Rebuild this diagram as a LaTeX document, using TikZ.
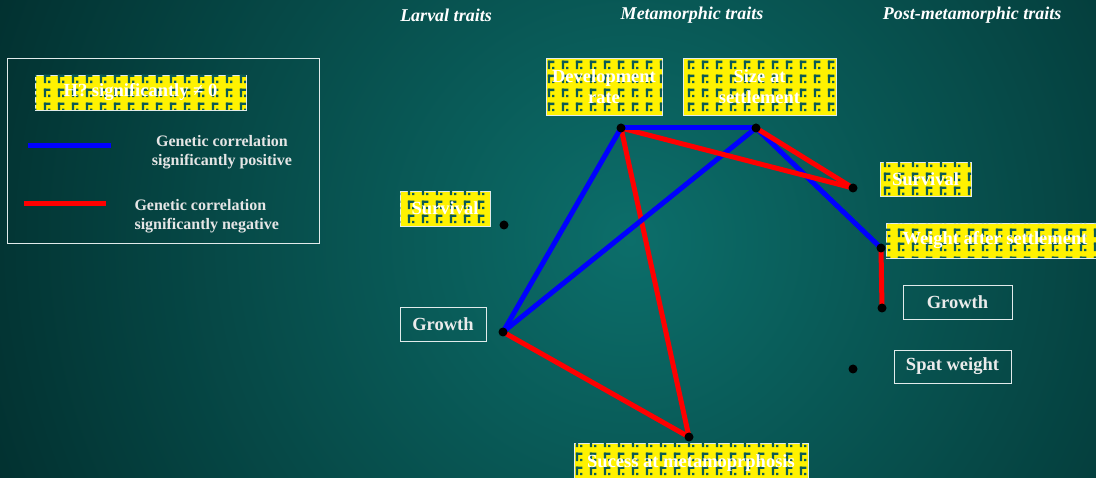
\documentclass[tikz,border=0pt]{standalone}
\usepackage{fontspec}
\setmainfont{Liberation Serif}
\usetikzlibrary{patterns}
\definecolor{bgin}{RGB}{12,110,106}
\definecolor{bgout}{RGB}{0,36,36}
\definecolor{patc}{RGB}{12,90,84}
\definecolor{myblue}{RGB}{0,0,255}
\definecolor{myred}{RGB}{255,0,0}
\definecolor{frame}{RGB}{225,235,235}
\pgfdeclarepatternformonly{tiles}{\pgfqpoint{0pt}{0pt}}{\pgfqpoint{14pt}{14pt}}{\pgfqpoint{14pt}{14pt}}{%
  \pgfpathrectangle{\pgfqpoint{2pt}{3pt}}{\pgfqpoint{2.5pt}{9pt}}\pgfusepath{fill}%
  \pgfpathrectangle{\pgfqpoint{2pt}{9.5pt}}{\pgfqpoint{7pt}{2.5pt}}\pgfusepath{fill}%
  \pgfpathrectangle{\pgfqpoint{6.5pt}{3pt}}{\pgfqpoint{2.5pt}{2.5pt}}\pgfusepath{fill}%
}
\tikzset{
  ybox/.style={draw=frame, line width=0.8pt, fill=yellow,
    postaction={pattern=tiles, pattern color=patc},
    inner sep=0pt, text=white, align=center,
    font=\fontsize{18.5}{21}\selectfont\bfseries},
  wbox/.style={draw=frame, line width=0.8pt, inner sep=0pt, text=white!92!black,
    font=\fontsize{18.5}{21}\selectfont\bfseries},
  hdr/.style={text=white, font=\fontsize{18}{21}\selectfont\bfseries\itshape},
  legtxt/.style={text=white!90!black, font=\fontsize{16}{19}\selectfont\bfseries},
  dot/.style={circle, fill=black, inner sep=0pt, minimum size=9pt},
  poscor/.style={draw=myblue, line width=5pt},
  negcor/.style={draw=myred, line width=5pt},
}
\begin{document}
\begin{tikzpicture}[x=1pt, y=-1pt]
\useasboundingbox (0,0) rectangle (1096,478);
\begin{scope}
  \clip (0,0) rectangle (1096,478);
  \shade[inner color=bgin, outer color=bgout] (630,240) circle (820);
\end{scope}

% headers
\node[hdr] (hl) at (446,15) {Larval traits};
\node[hdr] (hm) at (692,15) {Metamorphic traits};
\node[hdr] (hp) at (972,15) {Post-metamorphic traits};

% legend
\node[draw=frame, line width=0.8pt, minimum width=312pt, minimum height=185pt, inner sep=0pt] (legend) at (163,150.5) {};
\node[ybox, minimum width=211pt, minimum height=35pt] (h2) at (140.5,92.5) {H? significantly ≠ 0};
\coordinate (lb1) at (28,146);
\coordinate (lb2) at (111,146);
\draw[poscor] (lb1) -- (lb2);
\node[legtxt, align=center] (lbt) at (222,152) {Genetic correlation\\significantly positive};
\coordinate (lr1) at (24,204);
\coordinate (lr2) at (106,204);
\draw[negcor] (lr1) -- (lr2);
\node[legtxt, align=left, anchor=west] (lrt) at (131,216) {Genetic correlation\\significantly negative};

% dot positions
\coordinate (dr) at (621,128);
\coordinate (ss) at (756,128);
\coordinate (ps) at (853,188);
\coordinate (wa) at (881,248);
\coordinate (pg) at (882,308);
\coordinate (sw) at (853,369);
\coordinate (ls) at (504,225);
\coordinate (lg) at (503,332);
\coordinate (sm) at (689,437);

% correlations
\draw[negcor] (dr) -- (sm);
\draw[negcor] (lg) -- (sm);
\draw[poscor] (dr) -- (lg);
\draw[poscor] (ss) -- (lg);
\draw[poscor] (ss) -- (wa);
\draw[negcor] (dr) -- (ps);
\draw[negcor] (ss) -- (ps);
\draw[poscor] (dr) -- (ss);
\draw[negcor] (wa) -- (pg);

\foreach \p in {dr,ss,ps,wa,pg,sw,ls,lg,sm}
  \node[dot] at (\p) {};

% trait labels
\node[ybox, minimum width=116pt, minimum height=57pt] (ldr) at (604,86.5) {Development\\rate};
\node[ybox, minimum width=153pt, minimum height=57pt] (lss) at (759.5,86.5) {Size at\\settlement};
\node[ybox, minimum width=90pt, minimum height=35pt] (lls) at (445,208.5) {Survival};
\node[wbox, minimum width=86pt, minimum height=34pt] (llg) at (443,324) {Growth};
\node[ybox, minimum width=91pt, minimum height=34pt] (lps) at (925.5,179) {Survival};
\node[ybox, minimum width=218pt, minimum height=35pt] (lwa) at (995,240.5) {Weight after settlement};
\node[wbox, minimum width=109pt, minimum height=34pt] (lpg) at (957.5,302) {Growth};
\node[wbox, minimum width=117pt, minimum height=33pt] (lsw) at (952.5,366.5) {Spat weight};
\node[ybox, minimum width=234pt, minimum height=40pt] (lsm) at (691,463) {Sucess at metamoprphosis};
\end{tikzpicture}
\end{document}
